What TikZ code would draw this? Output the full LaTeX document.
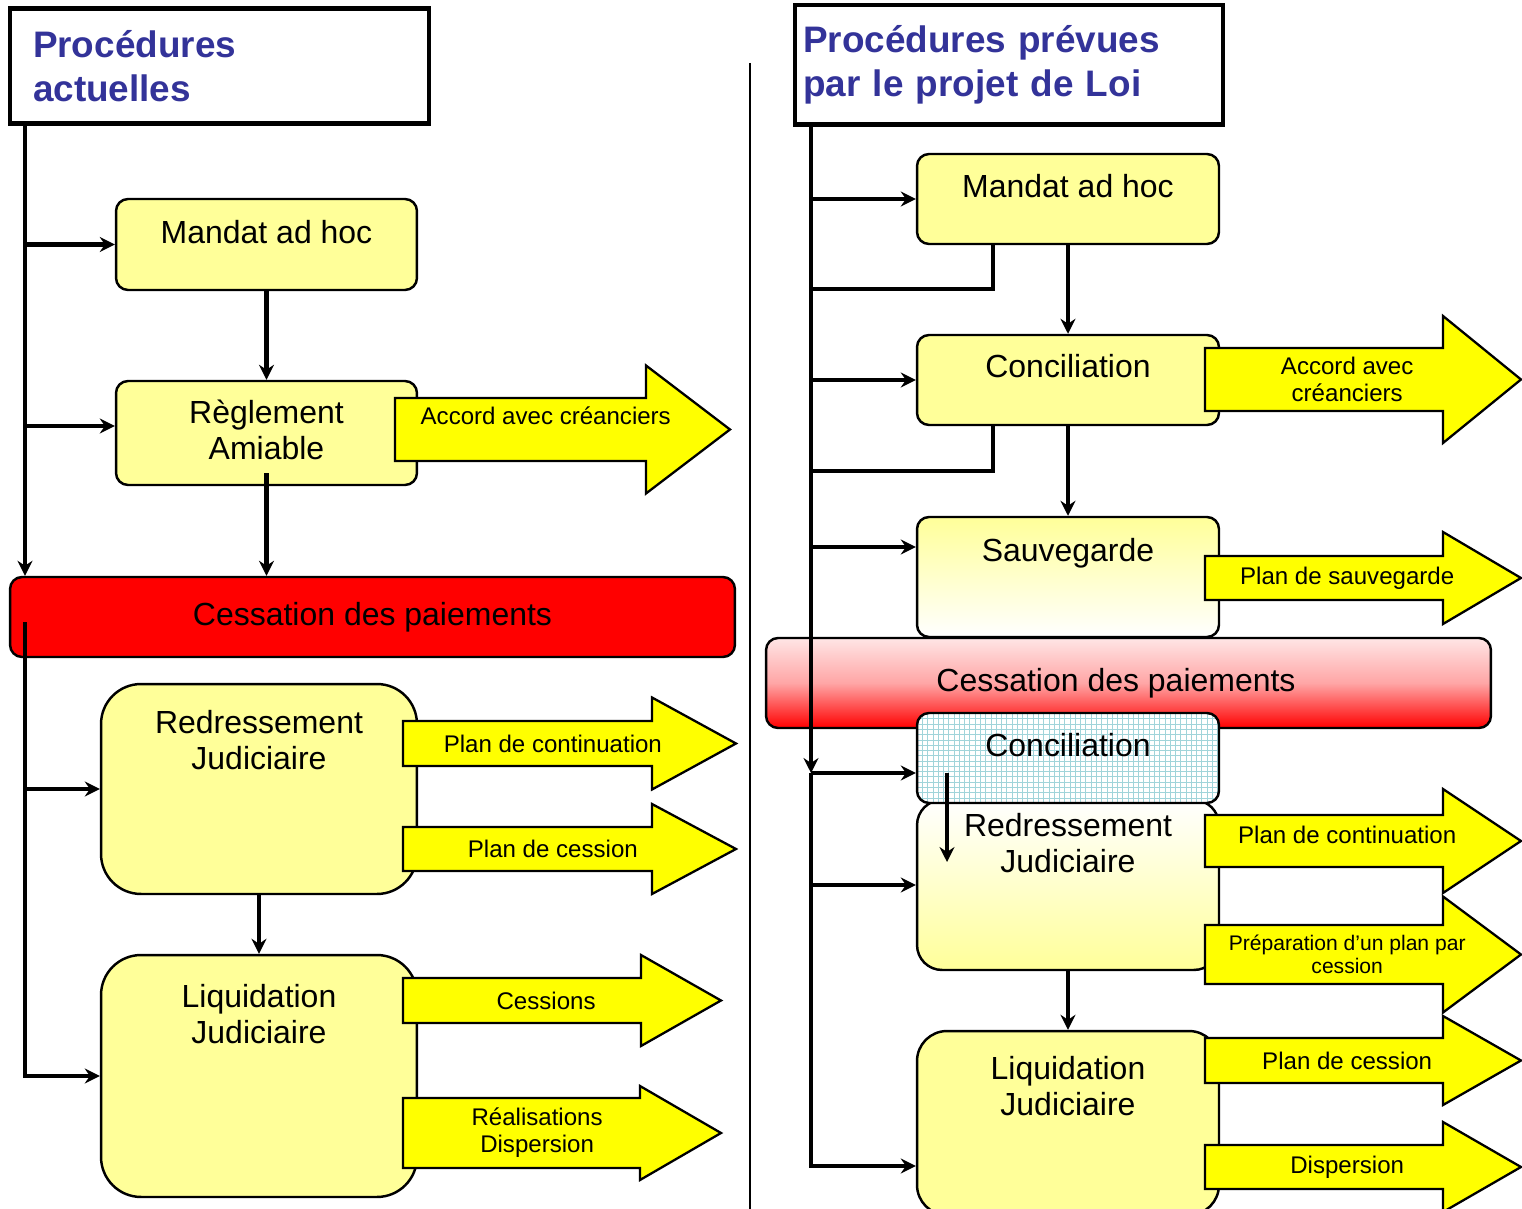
\documentclass[tikz,border=0pt]{standalone}
\usepackage{fontspec}
\setmainfont{Liberation Sans}
\usetikzlibrary{arrows.meta,patterns}

\definecolor{jaunepale}{RGB}{255,255,153}
\definecolor{jaunevif}{RGB}{255,255,0}
\definecolor{bleutitre}{RGB}{51,51,153}
\definecolor{bleugrille}{RGB}{160,212,218}

\tikzset{
  boite/.style={draw, line width=1.4pt, inner sep=0pt, rounded corners=0.24cm},
  jaune/.style={boite, fill=jaunepale},
  intitule/.style={anchor=north, inner sep=0pt, align=center, font=\fontsize{18.2}{20.5}\selectfont},
  entete/.style={draw, line width=2.7pt, fill=white, align=left, inner ysep=0pt, text=bleutitre, font=\fontsize{21}{25}\selectfont\bfseries},
  fil/.style={line width=2.3pt, -{Stealth[length=0.3cm,width=0.3cm,inset=0.1cm]}},
  trait/.style={line width=2.3pt},
  fleche/.style={draw, line width=1.3pt, fill=jaunevif, line join=miter},
  plantexte/.style={inner sep=0pt, align=center, font=\fontsize{13.7}{15.5}\selectfont},
}

% [options du texte]{nom}{x depart}{x tete}{x pointe}{y milieu}{demi corps}{demi tete}{texte}
\newcommand{\flecheplan}[9][]{%
  \draw[fleche] (#3,#6-#7) -- (#4,#6-#7) -- (#4,#6-#8) -- (#5,#6) -- (#4,#6+#8) -- (#4,#6+#7) -- (#3,#6+#7) -- cycle;
  \node[plantexte,#1] (#2) at ({#3+0.45*(#5-#3)},#6) {#9};
}

\begin{document}
\begin{tikzpicture}[x=0.02cm, y=-0.02cm]
\useasboundingbox (0,0) rectangle (1522,1209);
\clip (0,0) rectangle (1522,1209);

\draw[line width=1.3pt] (750,63) -- (750,1209);

% procedures actuelles
\node[entete, text width=7.46cm, inner xsep=0.46cm, minimum height=2.3cm] (titreG) at (219.5,66) {Procédures\\actuelles};
\node[jaune, minimum width=6.02cm, minimum height=1.82cm, label={[intitule, yshift=-0.44cm]north:Mandat ad hoc}] (mandatG) at (266.5,244.5) {};
\node[jaune, minimum width=6.02cm, minimum height=2.08cm, label={[intitule, yshift=-0.4cm]north:Règlement\\Amiable}] (regleG) at (266.5,433) {};
\node[boite, fill=red, minimum width=14.5cm, minimum height=1.6cm, font=\fontsize{18.2}{20.5}\selectfont] (cessG) at (372.5,617) {Cessation des paiements};
\node[jaune, rounded corners=0.8cm, minimum width=6.32cm, minimum height=4.2cm, label={[intitule, yshift=-0.55cm]north:Redressement\\Judiciaire}] (redrG) at (259,789) {};
\node[jaune, rounded corners=0.8cm, minimum width=6.32cm, minimum height=4.84cm, label={[intitule, yshift=-0.6cm]north:Liquidation\\Judiciaire}] (liqG) at (259,1076) {};

\flecheplan[yshift=0.27cm]{accordG}{395}{646}{730}{429.5}{31.5}{64}{Accord avec créanciers}
\flecheplan{continuationG}{403}{652}{736}{743.5}{22.5}{46}{Plan de continuation}
\flecheplan{cessionG}{403}{652}{736}{849}{22}{45}{Plan de cession}
\flecheplan{cessionsG}{403}{641}{721}{1000.5}{22.5}{45.5}{Cessions}
\flecheplan[xshift=-0.18cm]{realisationsG}{403}{640}{721}{1133}{35}{47}{Réalisations\\Dispersion}

\coordinate (axeG) at (25,0);
\coordinate (brancheR) at (25,426);
\coordinate (repriseG) at (25,622);
\draw[fil] (axeG |- titreG.south) -- (axeG |- cessG.north);
\draw[fil] (axeG |- mandatG.west) -- (mandatG.west);
\draw[fil] (brancheR) -- (brancheR -| regleG.west);
\draw[fil] (mandatG.south) -- (regleG.north);
\draw[fil] ([yshift=0.26cm]regleG.south) -- (regleG.south |- cessG.north);
\draw[fil] (repriseG) -- (repriseG |- liqG.west) -- (liqG.west);
\draw[fil] (repriseG |- redrG.west) -- (redrG.west);
\draw[fil] (redrG.south) -- (liqG.north);

% procedures prevues
\node[entete, text width=8.24cm, inner xsep=0.16cm, minimum height=2.39cm] (titreD) at (1009,64.7) {Procédures prévues\\par le projet de Loi};
\node[jaune, minimum width=6.04cm, minimum height=1.8cm, label={[intitule, yshift=-0.43cm]north:Mandat ad hoc}] (mandatD) at (1068,199) {};
\node[jaune, minimum width=6.04cm, minimum height=1.8cm, label={[intitule, yshift=-0.41cm]north:Conciliation}] (concD) at (1068,380) {};
\node[boite, top color=jaunepale, bottom color=white, minimum width=6.04cm, minimum height=2.4cm, label={[intitule, yshift=-0.45cm]north:Sauvegarde}] (sauvD) at (1068,577) {};
\node[boite, top color=red!10, bottom color=red, middle color=red!35, minimum width=14.5cm, minimum height=1.8cm] (cessD) at (1128.5,683) {};
\node[intitule, anchor=center, xshift=-0.25cm] (texteCessD) at (cessD.center) {Cessation des paiements};
\node[boite, rounded corners=0.5cm, top color=white, bottom color=jaunepale, minimum width=6.04cm, minimum height=3.4cm, label={[intitule, yshift=-0.28cm]north:Redressement\\Judiciaire}] (redrD) at (1068,885) {};
\node[boite, preaction={fill=white}, pattern=grid, pattern color=bleugrille, minimum width=6.04cm, minimum height=1.8cm, label={[intitule, yshift=-0.42cm]north:Conciliation}] (concH) at (1068,758) {};
\node[jaune, rounded corners=0.6cm, minimum width=6.04cm, minimum height=3.68cm, label={[intitule, yshift=-0.53cm]north:Liquidation\\Judiciaire}] (liqD) at (1068,1123) {};

\flecheplan{accordD}{1205}{1443}{1521}{379.5}{31.5}{63.5}{Accord avec\\créanciers}
\flecheplan{sauvegardeD}{1205}{1443}{1521}{578}{22}{46}{Plan de sauvegarde}
\flecheplan[yshift=0.12cm]{continuationD}{1205}{1443}{1521}{841}{26}{52}{Plan de continuation}
\flecheplan[font=\fontsize{12}{13}\selectfont]{preparationD}{1205}{1443}{1521}{954.5}{29.5}{58}{Préparation d’un plan par\\cession}
\flecheplan{cessionD}{1205}{1443}{1521}{1060.5}{22.5}{44.5}{Plan de cession}
\flecheplan{dispersionD}{1205}{1443}{1521}{1167}{22}{45}{Dispersion}

\coordinate (axeD) at (811,0);
\coordinate (brancheS) at (811,547);
\coordinate (marcheM) at (993,289);
\coordinate (marcheC) at (993,471);
\coordinate (jonctionD) at (811,773);
\coordinate (basD) at (811,1166);
\coordinate (departC) at (947,773);
\coordinate (finC) at (947,862);
\draw[fil] (axeD |- titreD.south) -- (jonctionD);
\draw[fil] (axeD |- mandatD.west) -- (mandatD.west);
\draw[fil] (axeD |- concD.west) -- (concD.west);
\draw[fil] (brancheS) -- (brancheS -| sauvD.west);
\draw[trait] (mandatD.south -| marcheM) -- (marcheM) -- (axeD |- marcheM);
\draw[trait] (concD.south -| marcheC) -- (marcheC) -- (axeD |- marcheC);
\draw[fil] (mandatD.south) -- (concD.north);
\draw[fil] (concD.south) -- (sauvD.north);
\draw[fil] (jonctionD) -- (jonctionD -| concH.west);
\draw[fil] (jonctionD) -- (basD) -- (basD -| liqD.west);
\draw[fil] (axeD |- redrD.west) -- (redrD.west);
\draw[fil] (redrD.south) -- (liqD.north);
\draw[fil] (departC) -- (finC);
\end{tikzpicture}
\end{document}
